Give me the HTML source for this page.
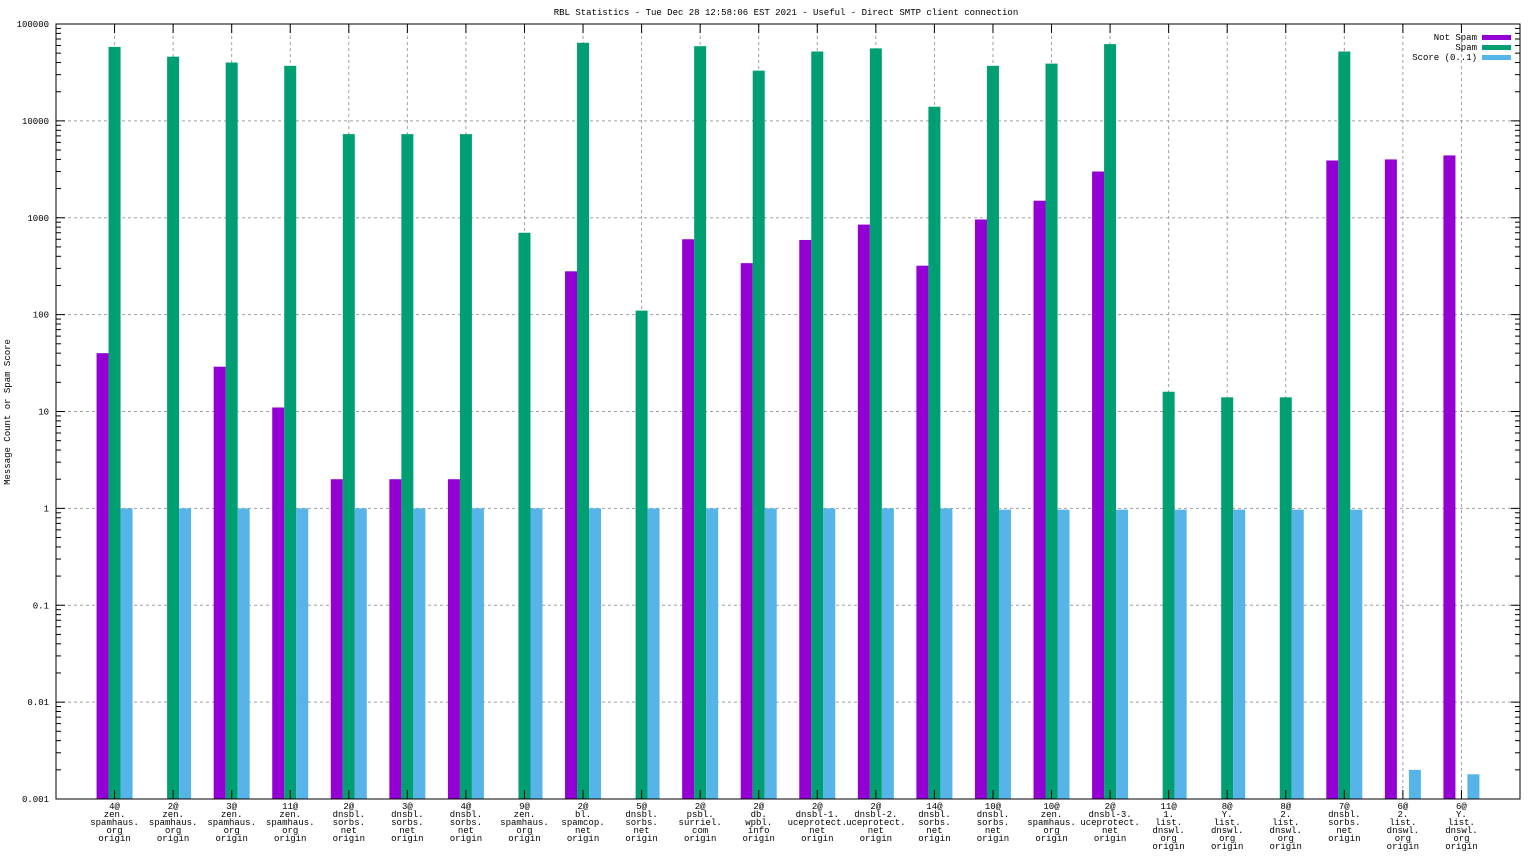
<!DOCTYPE html>
<html><head><meta charset="utf-8"><style>
body{margin:0;background:#fff;}
svg{display:block;font-family:"Liberation Mono","DejaVu Sans Mono",monospace;font-size:9px;}
</style></head><body>
<svg id="chart" width="1536" height="864" xmlns="http://www.w3.org/2000/svg">
<text x="786" y="15" text-anchor="middle">RBL Statistics - Tue Dec 28 12:58:06 EST 2021 - Useful - Direct SMTP client connection</text>
<text transform="translate(10,412) rotate(-90)" text-anchor="middle">Message Count or Spam Score</text>
<g id="grid"></g>
<g id="bars"></g>
<g id="axes"></g>
<g id="legend"></g>
</svg>
<script>
const categories = [
["4@","zen.","spamhaus.","org","origin"],["2@","zen.","spamhaus.","org","origin"],["3@","zen.","spamhaus.","org","origin"],["11@","zen.","spamhaus.","org","origin"],
["2@","dnsbl.","sorbs.","net","origin"],["3@","dnsbl.","sorbs.","net","origin"],["4@","dnsbl.","sorbs.","net","origin"],["9@","zen.","spamhaus.","org","origin"],
["2@","bl.","spamcop.","net","origin"],["5@","dnsbl.","sorbs.","net","origin"],["2@","psbl.","surriel.","com","origin"],["2@","db.","wpbl.","info","origin"],
["2@","dnsbl-1.","uceprotect.","net","origin"],["2@","dnsbl-2.","uceprotect.","net","origin"],["14@","dnsbl.","sorbs.","net","origin"],["10@","dnsbl.","sorbs.","net","origin"],
["10@","zen.","spamhaus.","org","origin"],["2@","dnsbl-3.","uceprotect.","net","origin"],["11@","1.","list.","dnswl.","org","origin"],["8@","Y.","list.","dnswl.","org","origin"],
["8@","2.","list.","dnswl.","org","origin"],["7@","dnsbl.","sorbs.","net","origin"],["6@","2.","list.","dnswl.","org","origin"],["6@","Y.","list.","dnswl.","org","origin"]];
const notSpam = [40,null,29,11,2,2,2,null,280,null,600,340,590,850,320,960,1500,3000,null,null,null,3900,4000,4400];
const spam = [58000,46000,40000,37000,7300,7300,7300,700,64000,110,59000,33000,52000,56000,14000,37000,39000,62000,16,14,14,52000,null,null];
const score = [1,1,1,1,1,1,1,1,1,1,1,1,1,1,1,0.97,0.97,0.97,0.97,0.97,0.97,0.97,0.002,0.0018];
const yTicks = ["0.001","0.01","0.1","1","10","100","1000","10000","100000"];

const L=56,R=1520,T=24,B=799;
const NS="http://www.w3.org/2000/svg";
function y(v){return B-(Math.log10(v)+3)/8*(B-T);}
function x(i){return L+(i+1)*(R-L)/(categories.length+1);}
function mk(tag,attrs,parent){const e=document.createElementNS(NS,tag);for(const k in attrs)e.setAttribute(k,attrs[k]);parent.appendChild(e);return e;}
const grid=document.getElementById('grid'),bars=document.getElementById('bars'),axes=document.getElementById('axes'),legend=document.getElementById('legend');

yTicks.forEach((t,k)=>{
  const v=parseFloat(t),yy=y(v);
  if(k>0&&k<yTicks.length-1){const g=mk('line',{x1:L,x2:R,y1:yy,y2:yy,stroke:'#a0a0a0','stroke-dasharray':'3,3'},grid);
  
  }
  const tx=mk('text',{x:L-7,y:yy+3,'text-anchor':'end'},axes);tx.textContent=t;
  
  
  mk('line',{x1:L,x2:L+9,y1:yy,y2:yy,stroke:'#000'},axes);
  mk('line',{x1:R,x2:R-9,y1:yy,y2:yy,stroke:'#000'},axes);
  if(k<yTicks.length-1){for(let m=2;m<10;m++){const ym=y(v*m);
    mk('line',{x1:L,x2:L+5,y1:ym,y2:ym,stroke:'#000'},axes);
    mk('line',{x1:R,x2:R-5,y1:ym,y2:ym,stroke:'#000'},axes);}}
});

categories.forEach((c,i)=>{
  const cx=x(i);
  const g=mk('line',{x1:cx,x2:cx,y1:T,y2:B,stroke:'#a0a0a0','stroke-dasharray':'3,3'},grid);
  
  
  mk('line',{x1:cx,x2:cx,y1:B,y2:B-9,stroke:'#000'},axes);
  mk('line',{x1:cx,x2:cx,y1:T,y2:T+9,stroke:'#000'},axes);
  const tx=mk('text',{x:cx,y:B+10,'text-anchor':'middle'},axes);
  
  
  c.forEach((line,j)=>{const ts=mk('tspan',{x:cx,dy:j?8:0},tx);ts.textContent=line;});
  [[notSpam,'#9400d3',-12,'bar-not-spam'],[spam,'#009e73',0,'bar-spam'],[score,'#56b4e9',12,'bar-score']].forEach(([arr,col,off,name])=>{
    const v=arr[i]; if(v==null)return;
    const top=y(v);
    const r=mk('rect',{x:cx+off-6,y:top,width:12,height:B-top,fill:col},bars);
    
    
  });
});
mk('rect',{x:L,y:T,width:R-L,height:B-T,fill:'none',stroke:'#000'},axes);

[["Not Spam",'#9400d3'],["Spam",'#009e73'],["Score (0..1)",'#56b4e9']].forEach(([lab,col],k)=>{
  const yy=37+k*10;
  const t=mk('text',{x:1477,y:yy+3,'text-anchor':'end'},legend);t.textContent=lab;
  
  
  const r=mk('rect',{x:1482,y:yy-2,width:29,height:5,fill:col},legend);
  
  
});
</script>
</body></html>
